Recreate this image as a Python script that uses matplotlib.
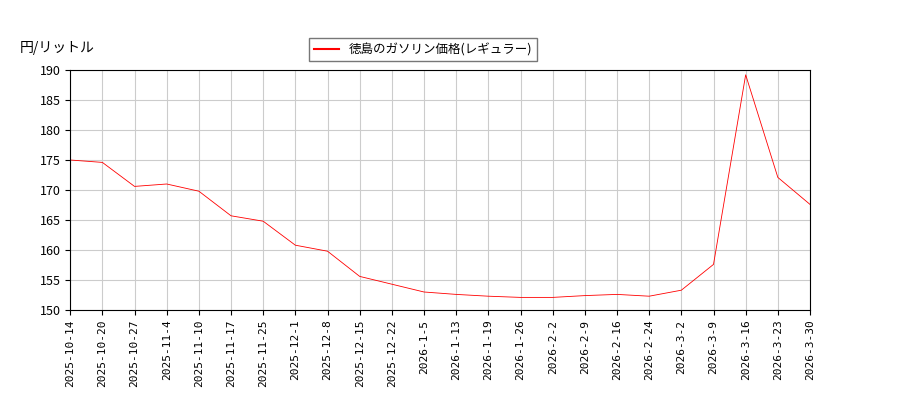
import matplotlib
matplotlib.use("Agg")
import matplotlib.pyplot as plt

plt.rcParams['font.family'] = ['Noto Sans CJK JP', 'DejaVu Sans']

dates = ["2025-10-14", "2025-10-20", "2025-10-27", "2025-11-4", "2025-11-10",
         "2025-11-17", "2025-11-25", "2025-12-1", "2025-12-8", "2025-12-15",
         "2025-12-22", "2026-1-5", "2026-1-13", "2026-1-19", "2026-1-26",
         "2026-2-2", "2026-2-9", "2026-2-16", "2026-2-24", "2026-3-2",
         "2026-3-9", "2026-3-16", "2026-3-23", "2026-3-30"]
prices = [175.0, 174.6, 170.6, 171.0, 169.8, 165.7, 164.8, 160.8, 159.8, 155.6,
          154.3, 153.0, 152.6, 152.3, 152.1, 152.1, 152.4, 152.6, 152.3, 153.3,
          157.6, 189.2, 172.1, 167.6]

fig = plt.figure(figsize=(9, 4), dpi=100)
ax = fig.add_axes([0.078, 0.225, 0.822, 0.6])
x = list(range(len(dates)))
ax.plot(x, prices, color='red', linewidth=0.6, label='徳島のガソリン価格(レギュラー)')
ax.set_xlim(0, len(dates) - 1)
ax.set_ylim(150, 190)
ax.set_xticks(x)
ax.set_xticklabels(dates, rotation=90, fontsize=8, family='DejaVu Sans Mono')
ax.tick_params(axis='y', labelsize=9)
ax.grid(True, color='#cccccc', linewidth=0.8)
fig.text(0.022, 0.87, '円/リットル', fontsize=10)
leg = fig.legend(loc='upper center', bbox_to_anchor=(0.47, 0.92), fontsize=9,
                 fancybox=False, edgecolor='#555555')
for h in leg.get_lines():
    h.set_linewidth(1.5)
fig.savefig('out.png')
